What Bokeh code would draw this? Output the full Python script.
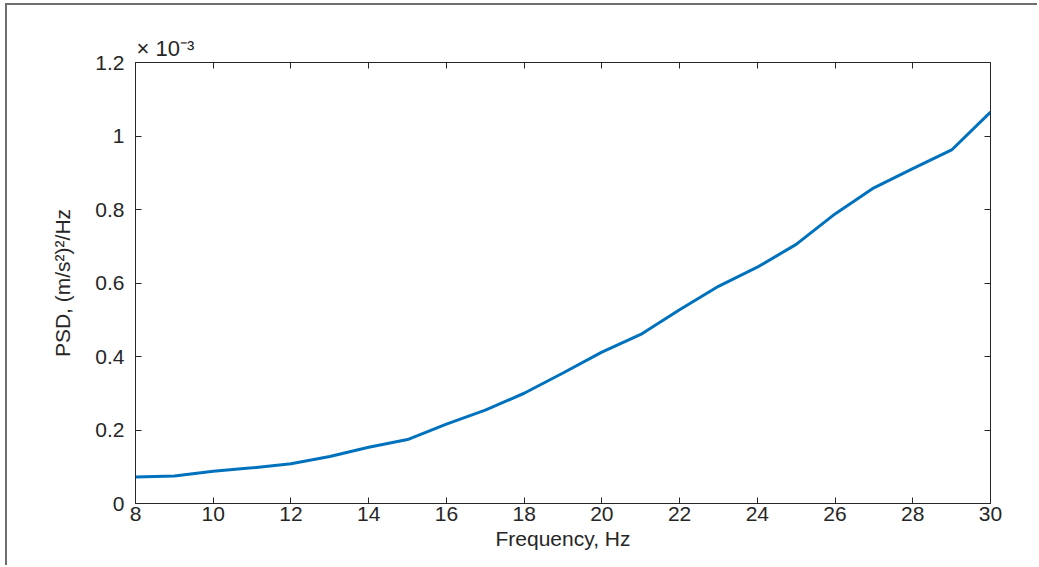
from bokeh.plotting import figure
from bokeh.models import Range1d, LinearAxis, FixedTicker, Title, CustomJSTickFormatter
from bokeh.embed import file_html
from bokeh.resources import INLINE

# Data (PSD in units of 1e-3 (m/s^2)^2/Hz)
freq_hz = [8, 9, 10, 11, 12, 13, 14, 15, 16, 17, 18, 19, 20, 21, 22, 23, 24, 25, 26, 27, 28, 29, 30]
psd_e3 = [0.072, 0.075, 0.088, 0.097, 0.108, 0.128, 0.153, 0.174, 0.216, 0.254, 0.300, 0.355,
          0.412, 0.460, 0.527, 0.591, 0.643, 0.705, 0.788, 0.859, 0.911, 0.962, 1.065]
x_ticks = [8, 10, 12, 14, 16, 18, 20, 22, 24, 26, 28, 30]
y_ticks = [0, 0.2, 0.4, 0.6, 0.8, 1.0, 1.2]
y_tick_labels = {0: "0", 0.2: "0.2", 0.4: "0.4", 0.6: "0.6", 0.8: "0.8", 1.0: "1", 1.2: "1.2"}
exponent_text = "× 10⁻³"

FONT = "Liberation Sans"
TXT = "#262626"
AX = "#262626"

# outer frame offsets (figure border at left/top)
OFF_L = 7
OFF_T = 5

p = figure(width=1039 - OFF_L, height=567 - OFF_T, output_backend="svg", toolbar_location=None,
           x_range=Range1d(8, 30), y_range=Range1d(0, 1.2),
           min_border_left=135 - OFF_L, min_border_right=49, min_border_top=62 - OFF_T,
           min_border_bottom=64,
           x_axis_label="Frequency, Hz", y_axis_label="PSD, (m/s²)²/Hz")
p.styles = {"margin-left": "5px", "margin-top": "3px",
            "border-left": "2px solid #6e6e6e", "border-top": "2px solid #6e6e6e"}
p.outline_line_color = None
p.xgrid.visible = False
p.ygrid.visible = False
p.background_fill_color = "white"
p.border_fill_color = "white"

p.line(freq_hz, psd_e3, line_color="#0072BD", line_width=3)

def style_axis(ax, ticks, show_labels=True):
    ax.ticker = FixedTicker(ticks=ticks)
    ax.axis_line_color = AX
    ax.axis_line_width = 1
    ax.major_tick_line_color = AX
    ax.major_tick_in = 6
    ax.major_tick_out = 0
    ax.minor_tick_line_color = None
    ax.major_label_text_font = FONT
    ax.major_label_text_color = TXT
    ax.major_label_text_font_size = "21px"
    if not show_labels:
        ax.formatter = CustomJSTickFormatter(code="return ''")
        ax.major_label_standoff = 0
    ax.axis_label_text_font = FONT
    ax.axis_label_text_color = TXT
    ax.axis_label_text_font_size = "21px"
    ax.axis_label_text_font_style = "normal"

style_axis(p.xaxis[0], x_ticks)
p.xaxis[0].major_label_standoff = 3
p.xaxis[0].axis_label_standoff = 3
style_axis(p.yaxis[0], y_ticks)
p.yaxis[0].major_label_overrides = y_tick_labels
p.yaxis[0].major_label_standoff = 11
p.yaxis[0].axis_label_standoff = 18

top_ax = LinearAxis()
style_axis(top_ax, x_ticks, show_labels=False)
p.add_layout(top_ax, "above")
right_ax = LinearAxis()
style_axis(right_ax, y_ticks, show_labels=False)
p.add_layout(right_ax, "right")

# exponent (× 10^-3) shown as a left-aligned title above the axes
exp_title = Title(text=exponent_text, align="left", offset=1, standoff=4)
exp_title.text_font = FONT
exp_title.text_font_size = "22px"
exp_title.text_color = TXT
exp_title.text_font_style = "normal"
p.add_layout(exp_title, "above")

open("out.html", "w").write(file_html(p, INLINE))
